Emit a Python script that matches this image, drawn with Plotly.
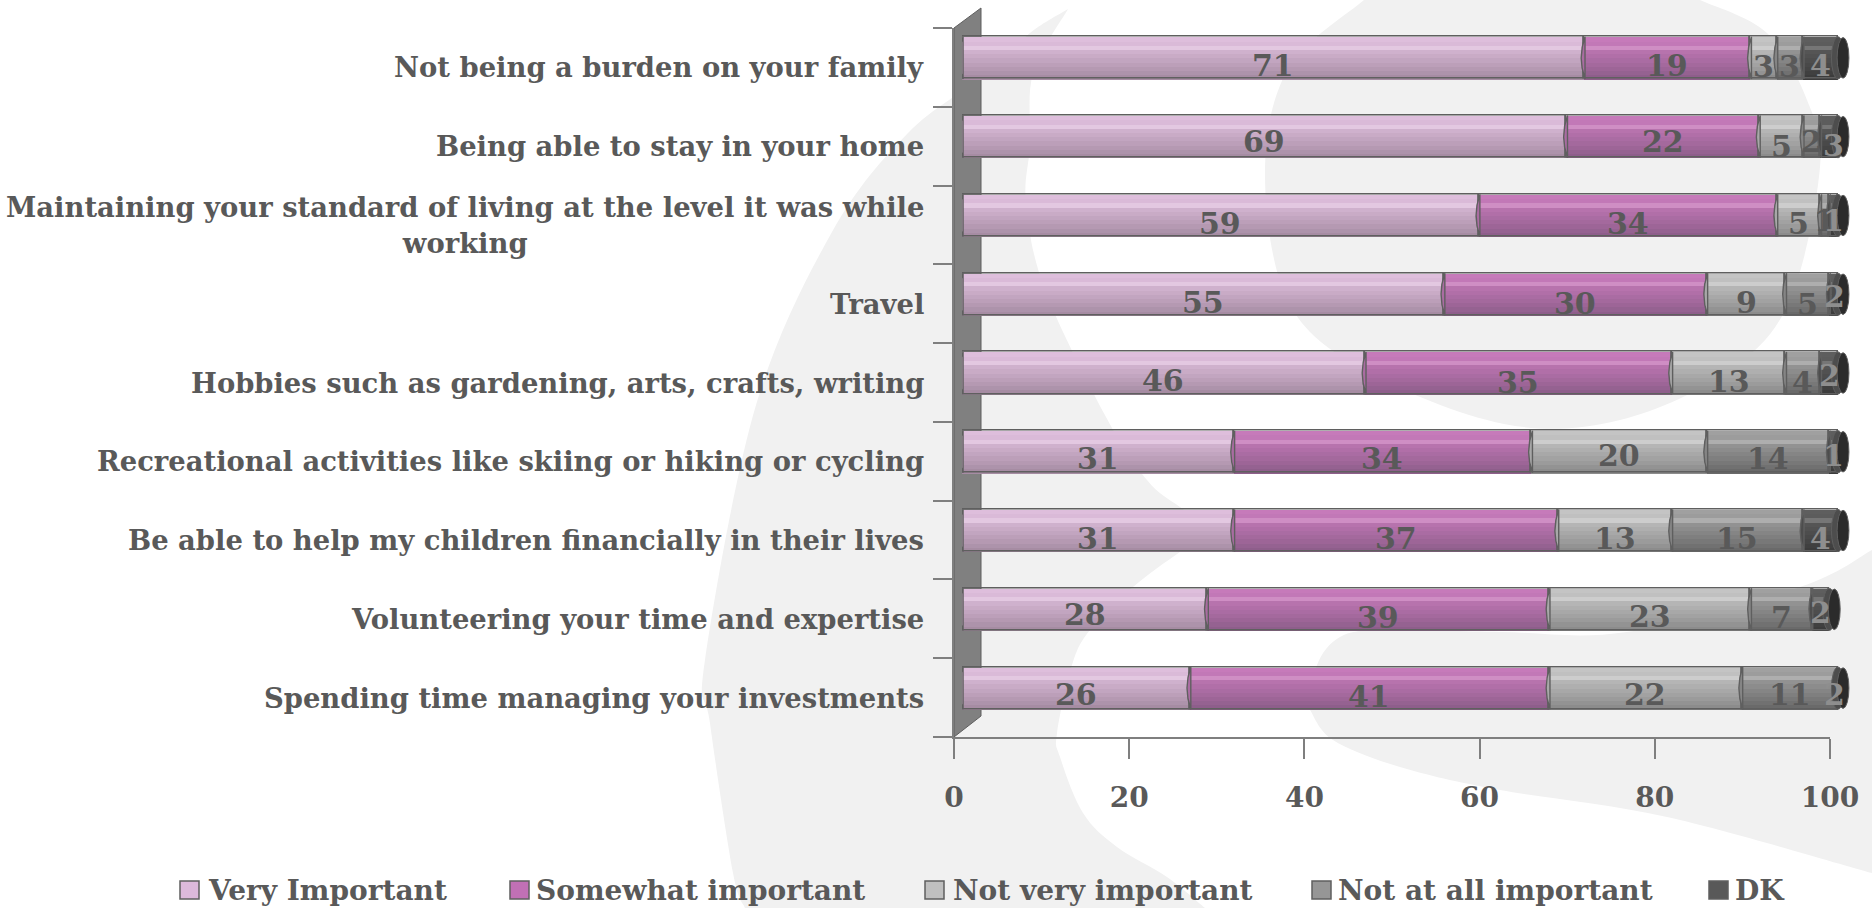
import plotly.graph_objects as go

categories = [
    "Not being a burden on your family",
    "Being able to stay in your home",
    "Maintaining your standard of living at the level it was while<br>working",
    "Travel",
    "Hobbies such as gardening, arts, crafts, writing",
    "Recreational activities like skiing or hiking or cycling",
    "Be able to help my children financially in their lives",
    "Volunteering your time and expertise",
    "Spending time managing your investments",
]
series_names = ["Very Important", "Somewhat important", "Not very important", "Not at all important", "DK"]
very_important = [71, 69, 59, 55, 46, 31, 31, 28, 26]
somewhat_important = [19, 22, 34, 30, 35, 34, 37, 39, 41]
not_very_important = [3, 5, 5, 9, 13, 20, 13, 23, 22]
not_at_all_important = [3, 2, 1, 5, 4, 14, 15, 7, 11]
dk = [4, 3, 1, 2, 2, 1, 4, 2, 2]
x_ticks = [0, 20, 40, 60, 80, 100]

# ---- styling / layout constants ----
W, H = 1872, 908
FONT = "DejaVu Serif"
TXT = "#595959"
LINE = "#5f5f5f"
swatch = ["#DDB9DB", "#C170B5", "#BFBFBF", "#969696", "#595959"]
top_c = ["#DEBEDC", "#C67ABA", "#C4C4C4", "#A0A0A0", "#5E5E5E"]
bot_c = ["#A68CA3", "#8E5E8B", "#8C8C8C", "#6A6A6A", "#3C3C3C"]
label_c = [TXT, TXT, TXT, TXT, "#8E8E8E"]
label_dy = [
    [6, 6, 7, 7, 6], [4, 4, 8, 4, 7], [7, 7, 7, 4, 4],
    [7, 8, 7, 9, 2], [6, 8, 7, 8, 2], [6, 6, 3, 6, 3],
    [7, 7, 7, 7, 7], [4, 7, 6, 7, 3], [5, 7, 5, 5, 5],
]
legend_swatch_x = [180, 510, 925, 1312, 1709]
legend_text_x = [206, 534, 951, 1336, 1733]
LEG_Y = 890
AX_L, AX_R, AX_B, AX_T = 954, 1830, 737, 28
DX, DY = 8, 9.5
BAR_W = 0.535
KSTRIPS = 10


def hexrgb(h):
    return [int(h[i:i + 2], 16) for i in (1, 3, 5)]


def mix(a, b, t):
    ca, cb = hexrgb(a), hexrgb(b)
    return "rgb(%d,%d,%d)" % tuple(round(p + (q - p) * t) for p, q in zip(ca, cb))


def px(x):
    return x / W


def py(y):
    return 1 - y / H


def smooth(points, start=True):
    """Catmull-Rom run through pixel points, as an SVG path in paper units."""
    pts = [(px(x), py(y)) for x, y in points]
    out = "M%.5f,%.5f" % pts[0] if start else "L%.5f,%.5f" % pts[0]
    for i in range(len(pts) - 1):
        p0 = pts[max(i - 1, 0)]
        p1 = pts[i]
        p2 = pts[i + 1]
        p3 = pts[min(i + 2, len(pts) - 1)]
        c1 = (p1[0] + (p2[0] - p0[0]) / 6, p1[1] + (p2[1] - p0[1]) / 6)
        c2 = (p2[0] - (p3[0] - p1[0]) / 6, p2[1] - (p3[1] - p1[1]) / 6)
        out += " C%.5f,%.5f %.5f,%.5f %.5f,%.5f" % (*c1, *c2, *p2)
    return out


series = [very_important, somewhat_important, not_very_important, not_at_all_important, dk]
rows = list(range(len(categories)))
shapes = []
annotations = []
WM = "#F1F1F1"

# watermark
shape_a = (
    smooth([(1068, 9), (1030, 33), (985, 75), (908, 133), (832, 232), (756, 405), (705, 660), (710, 723), (733, 873), (745, 908)])
    + " " + smooth([(1205, 908), (1167, 877), (1117, 847), (1083, 813), (1060, 757), (1057, 733), (1072, 665), (1090, 630),
                    (1133, 587), (1180, 552), (1215, 530)], start=False)
    + " " + smooth([(1215, 530), (1180, 507), (1147, 480), (1106, 417), (1045, 290), (1026, 203), (1030, 145), (1033, 73), (1068, 9)], start=False)
    + " Z"
)
shape_b = smooth([(1364, 0), (1288, 69), (1265, 174), (1288, 301), (1364, 370), (1504, 424), (1620, 420), (1730, 370),
                  (1790, 300), (1820, 167), (1807, 100), (1767, 33), (1700, 0)]) + " Z"
shape_c = (
    smooth([(1310, 710), (1317, 665), (1340, 637), (1383, 630), (1500, 632), (1627, 632), (1800, 587), (1872, 550)])
    + " " + smooth([(1872, 873), (1667, 817), (1500, 790), (1400, 767), (1333, 740), (1310, 710)], start=False)
    + " Z"
)
for p in (shape_a, shape_b, shape_c):
    shapes.append(dict(type="path", xref="paper", yref="paper", path=p, fillcolor=WM, line_width=0, layer="below"))

# side wall
wall = "M%.5f,%.5f L%.5f,%.5f L%.5f,%.5f L%.5f,%.5f Z" % (
    px(AX_L), py(AX_T), px(AX_L + 27), py(8), px(AX_L + 27), py(716), px(AX_L), py(AX_B))
shapes.append(dict(type="path", xref="paper", yref="paper", path=wall, fillcolor="#808080",
                   line=dict(color="#5f5f5f", width=1), layer="below"))

fig = go.Figure()
fig.add_trace(go.Scatter(x=[0], y=[0], xaxis="x", yaxis="y", mode="markers", marker=dict(opacity=0),
                         showlegend=False, hoverinfo="skip"))

# stacked cylinders
bases, widths = [], []
running = [0] * len(rows)
for vals in series:
    b = list(running)
    w = [max(min(r + v, 100) - r, 0) for r, v in zip(running, vals)]
    bases.append(b)
    widths.append(w)
    running = [r + v for r, v in zip(running, vals)]

for s, name in enumerate(series_names):
    fig.add_trace(go.Bar(x=widths[s], y=rows, base=bases[s], orientation="h", name=name, width=BAR_W,
                         xaxis="x2", yaxis="y2", marker=dict(color=mix(top_c[s], bot_c[s], .5), line_width=0),
                         showlegend=False))
    for k in range(KSTRIPS):
        t = k / (KSTRIPS - 1)
        col = mix(top_c[s], bot_c[s], t ** 1.2)
        if k == 2:
            col = mix(top_c[s], "#FFFFFF", .15)
        fig.add_trace(go.Bar(x=widths[s], y=rows, base=bases[s], orientation="h", width=BAR_W / KSTRIPS + .002,
                             offset=-BAR_W / 2 + k * BAR_W / KSTRIPS, xaxis="x2", yaxis="y2",
                             marker=dict(color=col, line_width=0), showlegend=False, hoverinfo="skip"))

for s, name in enumerate(series_names):
    fig.add_trace(go.Bar(x=widths[s], y=rows, base=bases[s], orientation="h", width=BAR_W, xaxis="x2", yaxis="y2",
                         marker=dict(color="rgba(0,0,0,0)", line=dict(color=LINE, width=1.6)),
                         showlegend=False, hoverinfo="skip"))

for r in rows:
    top, bot = r - BAR_W / 2, r + BAR_W / 2
    for s in range(5):
        if widths[s][r] <= 0:
            continue
        b = bases[s][r]
        lens = "M%g,%g Q%g,%g %g,%g Z" % (b + .12, top, b - .75, r, b + .12, bot)
        shapes.append(dict(type="path", xref="x2", yref="y2", path=lens,
                           fillcolor=mix(top_c[s], bot_c[s], .5), line=dict(color=LINE, width=1.4)))
    end = min(running[r], 100)
    shapes.append(dict(type="circle", xref="x2", yref="y2", x0=end - .75, x1=end + .75, y0=top, y1=bot,
                       fillcolor=mix(top_c[4], bot_c[4], .5), line=dict(color=LINE, width=1)))
    shapes.append(dict(type="circle", xref="x2", yref="y2", x0=end - .1, x1=end + 1.25, y0=top + .01, y1=bot - .01,
                       fillcolor="#2B2B2B", line=dict(color=LINE, width=1)))
    for s in range(5):
        c = bases[s][r] + series[s][r] / 2
        annotations.append(dict(x=min(c, 99.6), y=r, xref="x2", yref="y2", text=str(series[s][r]), showarrow=False,
                                yshift=-label_dy[r][s] * 1.194,
                                font=dict(family=FONT, size=30, color=label_c[s], weight="bold")))
    annotations.append(dict(x=px(926), y=r, xref="paper", yref="y", xanchor="right", yanchor="middle",
                            text=categories[r], showarrow=False, align="center",
                            font=dict(family=FONT, size=27.4, color=TXT, weight="bold")))

# key
for s, name in enumerate(series_names):
    shapes.append(dict(type="rect", xref="paper", yref="paper", x0=px(legend_swatch_x[s]),
                       x1=px(legend_swatch_x[s] + 19), y0=py(LEG_Y + 9), y1=py(LEG_Y - 9),
                       fillcolor=swatch[s], line=dict(color=LINE, width=1.5)))
    annotations.append(dict(x=px(legend_text_x[s]), y=py(LEG_Y), xref="paper", yref="paper", xanchor="left",
                            yanchor="middle", text=name, showarrow=False,
                            font=dict(family=FONT, size=28, color=TXT, weight="bold")))

fig.update_layout(
    width=W, height=H, margin=dict(l=0, r=0, t=0, b=0, pad=0), autosize=False,
    paper_bgcolor="white", plot_bgcolor="rgba(0,0,0,0)", barmode="overlay", showlegend=False,
    shapes=shapes, annotations=annotations, bargap=0,
    font=dict(family=FONT, color=TXT),
    xaxis=dict(domain=[px(AX_L), px(AX_R)], range=[0, 100], tickvals=x_ticks, showgrid=False, zeroline=False,
               showline=True, linecolor="#7f7f7f", linewidth=2, ticks="outside", ticklen=20, tickwidth=1.5,
               tickcolor="#7f7f7f", anchor="y", ticklabelstandoff=14, automargin=False,
               tickfont=dict(family=FONT, size=28, color=TXT, weight="bold")),
    yaxis=dict(domain=[py(AX_B), py(AX_T)], range=[8.5, -0.5], tickvals=[], showgrid=False, zeroline=False,
               showline=True, linecolor="#7f7f7f", linewidth=2, anchor="x", automargin=False,
               minor=dict(tickvals=[i - .5 for i in range(10)], ticks="outside", ticklen=19, tickwidth=1.5,
                          tickcolor="#7f7f7f", showgrid=False)),
    xaxis2=dict(domain=[px(AX_L + DX), px(AX_L + DX + (AX_R - AX_L) * 1.03)], range=[0, 103], visible=False,
                anchor="y2", automargin=False),
    yaxis2=dict(domain=[py(AX_B - DY), py(AX_T - DY)], range=[8.5, -0.5], visible=False, anchor="x2", automargin=False),
)

fig.write_html("out.html", config=dict(displayModeBar=False),
               post_script="document.body.style.margin='0';document.body.style.overflow='hidden';")
